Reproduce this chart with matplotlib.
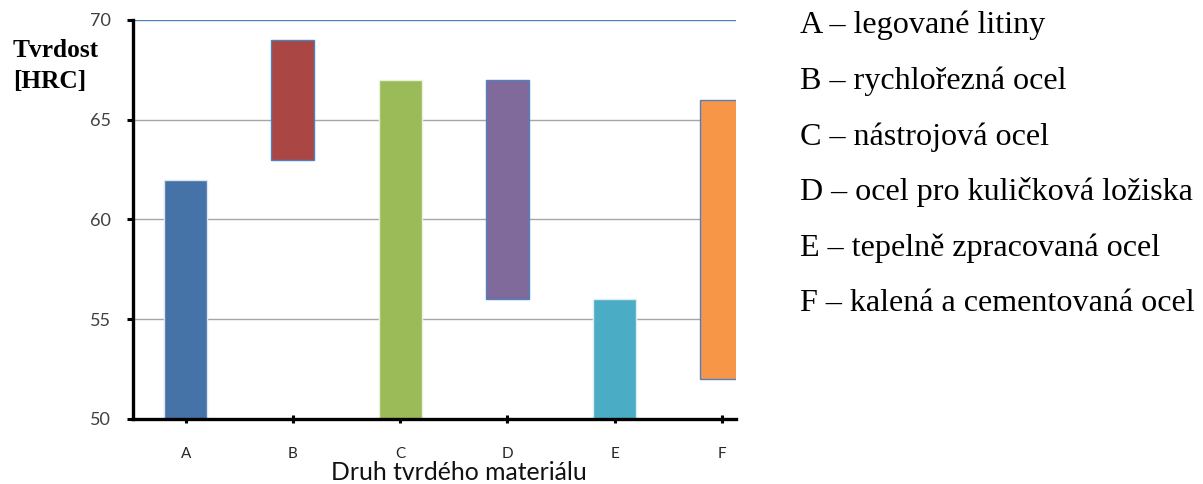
import matplotlib
matplotlib.use("Agg")
import matplotlib.pyplot as plt

categories = ["A", "B", "C", "D", "E", "F"]
low_values = [50, 63, 50, 56, 50, 52]
high_values = [62, 69, 67, 67, 56, 66]
colors = ["#4572A7", "#AA4643", "#9BBB59", "#80699B", "#4BACC6", "#F79646"]
edge_colors = ["#DCE6F2", "#4F81BD", "#EAF1DD", "#4F81BD", "#DAEEF3", "#4F81BD"]
legend_lines = [
    "A – legované litiny",
    "B – rychlořezná ocel",
    "C – nástrojová ocel",
    "D – ocel pro kuličková ložiska",
    "E – tepelně zpracovaná ocel",
    "F – kalená a cementovaná ocel",
]
y_ticks = [50, 55, 60, 65, 70]

W, H = 1203, 484
fig = plt.figure(figsize=(W / 100, H / 100), dpi=100)
ax = fig.add_axes([132.7 / W, 1 - 419 / H, (736 - 132.7) / W, (419 - 20) / H])

x = list(range(len(categories)))
heights = [h - l for h, l in zip(high_values, low_values)]
ax.bar(x, heights, bottom=low_values, width=0.40, color=colors,
       edgecolor=edge_colors, linewidth=1.0, zorder=3)

ax.set_xlim(-0.494, 5.133)
ax.set_ylim(50, 70)
ax.set_yticks(y_ticks)
ax.set_xticks(x)
ax.set_xticklabels(categories)

for v in [55, 60, 65]:
    ax.axhline(v, color="#A6A6A6", linewidth=1.0, zorder=1)
ax.axhline(70, color="#4F81BD", linewidth=1.0, zorder=1)

for s in ["top", "right"]:
    ax.spines[s].set_visible(False)
for s in ["left", "bottom"]:
    ax.spines[s].set_linewidth(2.4)
    ax.spines[s].set_color("black")
    ax.spines[s].set_zorder(4)

ax.tick_params(axis="y", direction="out", length=4.5, width=2.2, pad=11,
               labelsize=13, labelcolor="#404040")
ax.tick_params(axis="x", direction="inout", length=6, width=2.2, pad=17,
               labelsize=11, labelcolor="#262626")
for lab in ax.get_yticklabels() + ax.get_xticklabels():
    lab.set_fontfamily("Lato")

fig.text(459 / W, 1 - 480 / H, "Druh tvrdého materiálu", ha="center",
         va="baseline", fontsize=17.8, family="Lato", color="#111111")

fig.text(13 / W, 1 - 57 / H, "Tvrdost", ha="left", va="baseline",
         fontsize=18.3, fontweight="bold", family="Liberation Serif")
fig.text(13 / W, 1 - 88 / H, "[HRC]", ha="left", va="baseline",
         fontsize=18.3, fontweight="bold", family="Liberation Serif")

baselines = [33, 89, 145, 200, 256, 311]
for txt, yb in zip(legend_lines, baselines):
    fig.text(800 / W, 1 - yb / H, txt, ha="left", va="baseline",
             fontsize=23.1, family="Liberation Serif", color="black")

fig.savefig("out.png", dpi=100)
